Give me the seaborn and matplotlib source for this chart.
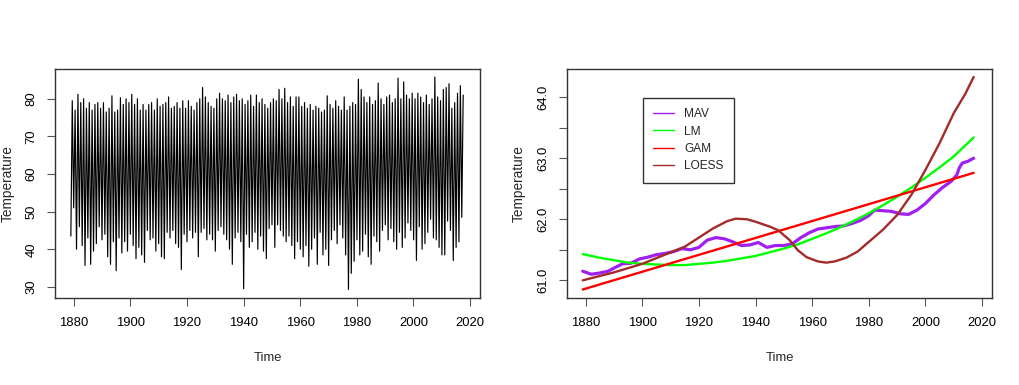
import numpy as np
import pandas as pd
import matplotlib
matplotlib.use("Agg")
import matplotlib.pyplot as plt
import seaborn as sns

# ---------------- data ----------------
years = list(range(1879, 2018))

# annual summer peaks (July) of monthly temperature
summer_high = [
    79.5, 77.0, 81.2, 79.0, 80.0, 77.5, 79.0, 77.0, 78.5, 79.0,   # 1879-1888
    77.5, 79.0, 76.5, 77.5, 80.8, 76.5, 77.0, 80.3, 78.5, 80.0,   # 1889-1898
    79.0, 81.2, 78.5, 80.0, 77.0, 78.5, 77.0, 78.5, 79.0, 77.0,   # 1899-1908
    80.0, 78.0, 78.5, 79.0, 80.5, 77.5, 78.0, 79.0, 77.5, 79.5,   # 1909-1918
    77.5, 79.5, 78.0, 77.0, 79.0, 80.0, 83.0, 80.5, 79.0, 78.0,   # 1919-1928
    77.5, 80.0, 81.5, 80.0, 79.5, 81.0, 79.0, 80.5, 81.2, 79.5,   # 1929-1938
    80.0, 78.5, 79.5, 81.0, 78.0, 81.0, 79.0, 80.0, 78.5, 77.5,   # 1939-1948
    79.0, 80.0, 79.5, 82.5, 80.0, 82.8, 79.0, 80.5, 78.0, 80.5,   # 1949-1958
    80.5, 78.0, 79.0, 77.5, 78.5, 77.0, 78.0, 77.5, 76.5, 77.0,   # 1959-1968
    80.8, 78.5, 77.5, 79.5, 78.0, 77.0, 80.5, 77.0, 78.0, 79.0,   # 1969-1978
    78.5, 85.2, 82.5, 80.5, 79.0, 80.5, 78.5, 79.5, 84.2, 80.0,   # 1979-1988
    78.5, 80.5, 81.0, 79.0, 80.0, 85.5, 80.0, 84.5, 81.0, 80.0,   # 1989-1998
    81.5, 80.0, 81.5, 80.5, 79.0, 81.0, 78.5, 80.0, 85.8, 80.5,   # 1999-2008
    79.5, 82.5, 83.0, 84.0, 77.5, 79.0, 81.5, 83.5, 81.0,         # 2009-2017
]

# annual winter troughs (January) of monthly temperature
winter_low = [
    43.5, 51.0, 40.0, 46.0, 41.0, 35.7, 43.0, 36.0, 39.5, 41.5,   # 1879-1888
    46.0, 42.5, 44.0, 38.0, 36.0, 42.0, 34.3, 43.0, 39.0, 42.0,   # 1889-1898
    39.5, 44.0, 41.0, 37.5, 40.5, 38.5, 36.5, 45.0, 42.5, 43.0,   # 1899-1908
    39.5, 41.5, 38.0, 37.5, 44.5, 43.0, 45.0, 41.5, 40.5, 34.6,   # 1909-1918
    44.0, 42.0, 45.0, 43.0, 44.5, 38.0, 44.5, 45.5, 42.5, 44.0,   # 1919-1928
    42.5, 39.5, 45.0, 46.0, 44.0, 42.5, 40.0, 36.0, 43.0, 44.5,   # 1929-1938
    42.0, 29.5, 44.0, 40.5, 42.0, 44.5, 40.0, 43.5, 39.5, 37.5,   # 1939-1948
    45.5, 46.5, 40.5, 46.5, 45.0, 43.5, 42.0, 43.5, 41.0, 37.5,   # 1949-1958
    42.0, 40.0, 38.0, 41.0, 35.5, 40.0, 43.0, 36.0, 44.5, 38.5,   # 1959-1968
    40.0, 35.7, 42.5, 45.0, 41.5, 46.5, 43.0, 38.5, 29.3, 33.6,   # 1969-1978
    36.8, 42.5, 38.5, 39.5, 44.0, 38.0, 36.0, 43.5, 42.0, 39.5,   # 1979-1988
    45.0, 46.5, 42.5, 45.5, 42.0, 40.0, 44.5, 40.5, 43.0, 47.0,   # 1989-1998
    45.0, 42.5, 37.0, 46.0, 40.0, 41.5, 44.5, 48.0, 43.0, 42.5,   # 1999-2008
    40.5, 38.5, 38.5, 47.5, 45.0, 37.0, 40.5, 42.0, 48.5,         # 2009-2017
]

# trend curves (right panel)
mav_years = [1879, 1882, 1885, 1888, 1890, 1893, 1896, 1899, 1902, 1905,
             1908, 1911, 1914, 1917, 1920, 1923, 1926, 1929, 1932, 1935,
             1938, 1941, 1944, 1947, 1950, 1953, 1956, 1959, 1962, 1965,
             1968, 1971, 1974, 1977, 1980, 1982, 1985, 1988, 1991, 1994,
             1997, 2000, 2003, 2006, 2009, 2011, 2012, 2013, 2015, 2017]
mav_vals = [61.15, 61.10, 61.12, 61.15, 61.20, 61.27, 61.28, 61.35, 61.38, 61.42,
            61.44, 61.47, 61.52, 61.50, 61.54, 61.66, 61.70, 61.68, 61.63, 61.57,
            61.58, 61.62, 61.54, 61.57, 61.57, 61.60, 61.70, 61.78, 61.84, 61.86,
            61.88, 61.89, 61.93, 61.98, 62.06, 62.15, 62.14, 62.13, 62.09, 62.08,
            62.15, 62.26, 62.40, 62.52, 62.62, 62.72, 62.85, 62.92, 62.95, 63.00]

lm_years = [1879, 1885, 1890, 1895, 1900, 1905, 1910, 1915, 1920, 1925,
            1930, 1935, 1940, 1945, 1950, 1955, 1960, 1965, 1970, 1975,
            1980, 1985, 1990, 1995, 2000, 2005, 2010, 2017]
lm_vals = [61.43, 61.37, 61.33, 61.29, 61.27, 61.26, 61.25, 61.25, 61.27, 61.29,
           61.32, 61.36, 61.40, 61.46, 61.52, 61.59, 61.68, 61.77, 61.87, 61.98,
           62.10, 62.23, 62.37, 62.52, 62.68, 62.85, 63.03, 63.34]

gam_years = [1879, 2017]
gam_vals = [60.85, 62.76]

loess_years = [1879, 1890, 1900, 1908, 1915, 1920, 1925, 1930, 1933, 1937,
               1940, 1945, 1948, 1952, 1955, 1958, 1962, 1965, 1968, 1972,
               1976, 1980, 1985, 1990, 1995, 2000, 2005, 2010, 2014, 2017]
loess_vals = [61.00, 61.13, 61.27, 61.42, 61.55, 61.70, 61.85, 61.97, 62.01, 62.00,
              61.96, 61.88, 61.82, 61.66, 61.49, 61.38, 61.31, 61.29, 61.31, 61.37,
              61.47, 61.63, 61.83, 62.07, 62.40, 62.81, 63.25, 63.74, 64.05, 64.33]

series_names = ["MAV", "LM", "GAM", "LOESS"]
series_colors = ["#A020F0", "#00FF00", "#FF0000", "#A52A2A"]

# ---------------- styling ----------------
sns.set_style("ticks")
plt.rcParams["font.family"] = ["Liberation Sans", "DejaVu Sans"]

fig = plt.figure(figsize=(10.19, 3.85), dpi=100)
ax1 = fig.add_axes([55 / 1019, (385 - 298) / 385, 425 / 1019, 229.5 / 385])
ax2 = fig.add_axes([567 / 1019, (385 - 298) / 385, 425 / 1019, 229.5 / 385])

# ---------------- left panel ----------------
t, v = [], []
for y, lo, hi in zip(years, winter_low, summer_high):
    t += [y + 0.04, y + 0.54]
    v += [lo, hi]
left_df = pd.DataFrame({"Time": t, "Temperature": v})
sns.lineplot(data=left_df, x="Time", y="Temperature", ax=ax1, color="black",
             lw=0.85, estimator=None, sort=False)

def r_range(lo, hi):
    pad = (hi - lo) * 0.04
    return lo - pad, hi + pad

ax1.set_xlim(*r_range(1879, 2017.92))
ax1.set_ylim(*r_range(min(v), max(v)))
ax1.set_xticks(range(1880, 2021, 20))
ax1.set_yticks(range(30, 81, 10))

# ---------------- right panel ----------------
frames = []
for name, xs, ys in [("MAV", mav_years, mav_vals), ("LM", lm_years, lm_vals),
                     ("GAM", gam_years, gam_vals), ("LOESS", loess_years, loess_vals)]:
    frames.append(pd.DataFrame({"Time": xs, "Temperature": ys, "Series": name}))
right_df = pd.concat(frames, ignore_index=True)

widths = {"MAV": 2.3, "LM": 1.7, "GAM": 1.7, "LOESS": 1.7}
for name, col in zip(series_names, series_colors):
    sub = right_df[right_df["Series"] == name]
    sns.lineplot(data=sub, x="Time", y="Temperature", ax=ax2, color=col,
                 lw=widths[name], estimator=None, sort=False, label=name)

ax2.set_xlim(*r_range(1879, 2017.92))
ax2.set_ylim(*r_range(min(right_df["Temperature"]), max(right_df["Temperature"])))
ax2.set_xticks(range(1880, 2021, 20))
yt = [61.0, 61.5, 62.0, 62.5, 63.0, 63.5, 64.0]
ax2.set_yticks(yt)
ax2.set_yticklabels([f"{x:.1f}" if x == int(x) else "" for x in yt])

handles, labels = ax2.get_legend_handles_labels()
leg = ax2.legend(handles, labels, loc="upper left", bbox_to_anchor=(0.178, 0.871),
                 frameon=True, fancybox=False, framealpha=1, edgecolor="#333333",
                 fontsize=8.6, handlelength=1.75, handletextpad=0.9,
                 labelspacing=0.45, borderpad=0.85, borderaxespad=0)
leg.get_frame().set_linewidth(1.0)
for h in leg.get_lines():
    h.set_linewidth(1.0)

# ---------------- common axis styling ----------------
for ax, ylab_x in [(ax1, -0.094), (ax2, -0.098)]:
    for s in ax.spines.values():
        s.set_visible(True)
        s.set_color("#333333")
        s.set_linewidth(1.0)
    ax.tick_params(axis="both", length=5.5, width=0.8, color="#555555",
                   labelsize=9.4, labelcolor="black")
    ax.tick_params(axis="x", pad=8)
    ax.tick_params(axis="y", pad=7)
    for lab in ax.get_yticklabels():
        lab.set_rotation(90)
        lab.set_va("center")
    ax.set_xlabel("Time", fontsize=9.4)
    ax.set_ylabel("Temperature", fontsize=9.8)
    ax.xaxis.set_label_coords(0.5, -0.235)
    ax.yaxis.set_label_coords(ylab_x, 0.5)

fig.savefig("out.png", dpi=100)
